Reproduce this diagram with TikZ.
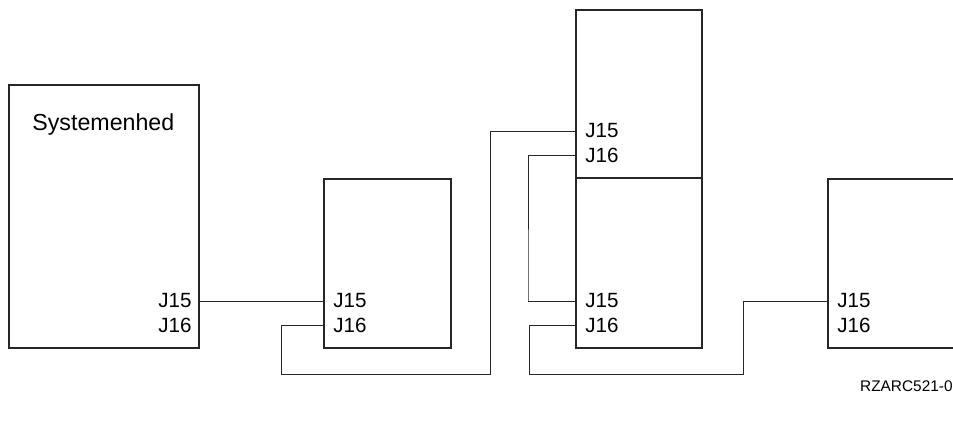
\documentclass[tikz,border=0pt]{standalone}
\usepackage{fontspec}
\setmainfont{Liberation Sans}
\begin{document}
\begin{tikzpicture}[x=0.5pt,y=-0.5pt,
    unit/.style={draw=black!85,line width=0.8pt,anchor=north west,inner sep=0pt},
    port/.style={font=\fontsize{10.3pt}{12pt}\selectfont,inner sep=0pt},
    cable/.style={draw=black!85,line width=0.5pt}]
                    \useasboundingbox (0,0) rectangle (953,425);
                    % enheder
                    \node[unit,minimum width=95pt,minimum height=131.5pt]  (sys) at (8,84)    {};
                    \node[unit,minimum width=63.5pt,minimum height=84.5pt] (bb)  at (323,178) {};
                    \node[unit,minimum width=63pt,minimum height=84pt]     (cc)  at (575,9)   {};
                    \node[unit,minimum width=63pt,minimum height=85pt]     (dd)  at (575,177) {};
                    \node[unit,minimum width=72pt,minimum height=84.5pt]   (ee)  at (827,178) {};
                    \node[anchor=west,inner sep=0pt,font=\fontsize{11.6pt}{14pt}\selectfont] (title) at (32,124) {Systemenhed};
                    % stik
                    \node[port,anchor=east] (sys15) at (192,301) {J15};
                    \node[port,anchor=east] (sys16) at (192,325) {J16};
                    \node[port,anchor=west] (bb15)  at (333,301) {J15};
                    \node[port,anchor=west] (bb16)  at (333,325) {J16};
                    \node[port,anchor=west] (cc15)  at (585,131) {J15};
                    \node[port,anchor=west] (cc16)  at (585,155) {J16};
                    \node[port,anchor=west] (dd15)  at (585,301) {J15};
                    \node[port,anchor=west] (dd16)  at (585,325) {J16};
                    \node[port,anchor=west] (ee15)  at (837,301) {J15};
                    \node[port,anchor=west] (ee16)  at (837,325) {J16};
                    \node[anchor=east,inner sep=0pt,font=\fontsize{7.7pt}{9pt}\selectfont] (ref) at (953,386) {RZARC521-0};
                    % kabler
                    \coordinate (r1) at (281,374);
                    \coordinate (r2) at (490,374);
                    \coordinate (l1) at (528,302);
                    \coordinate (r3) at (529,374);
                    \coordinate (r4) at (743,374);
                    \draw[cable] (sys.east |- sys15) -- (bb.west |- bb15);
                    \draw[cable] (bb.west |- bb16) -| (r1) -- (r2) |- (cc.west |- cc15);
                    \draw[cable] (cc.west |- cc16) -| (l1) |- (dd.west |- dd15);
                    \draw[cable] (dd.west |- dd16) -| (r3) -- (r4) |- (ee.west |- ee15);
                \end{tikzpicture}
\end{document}
